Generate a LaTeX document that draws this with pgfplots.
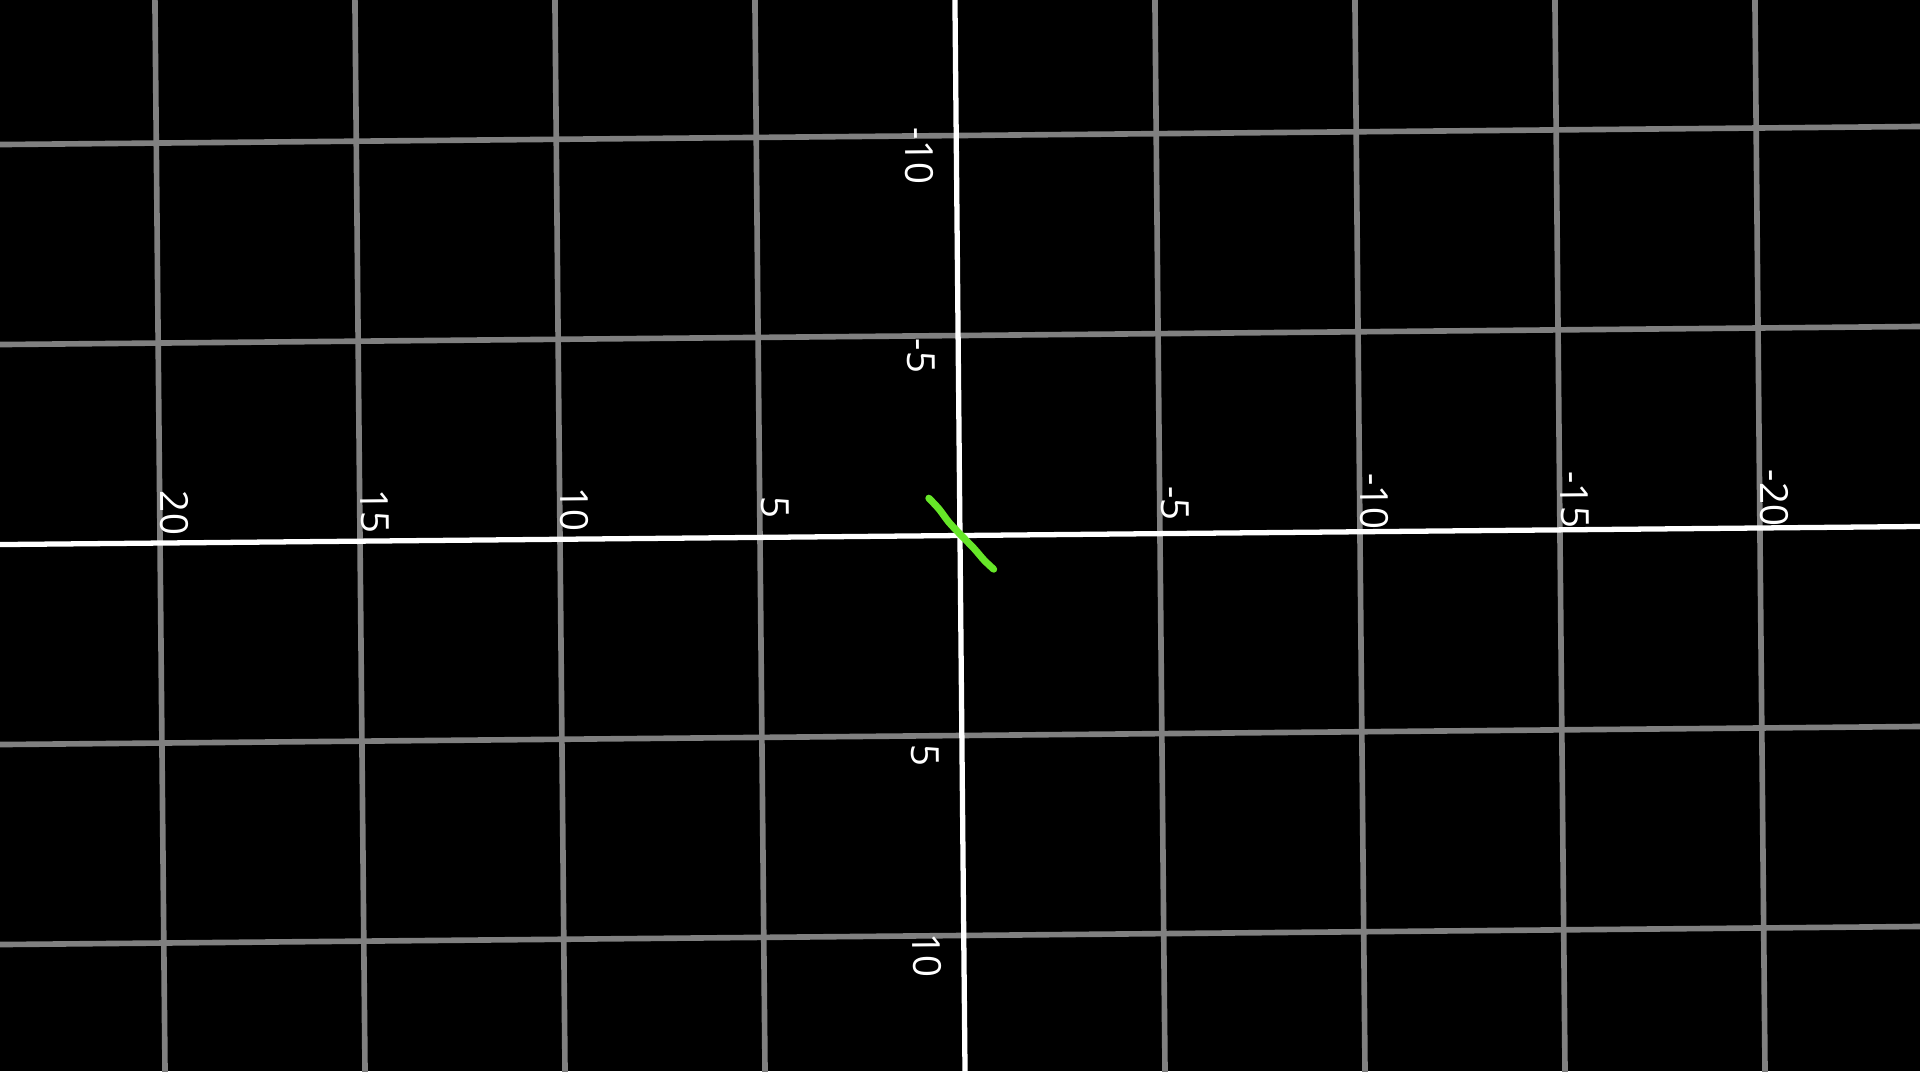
\documentclass[border=0pt]{standalone}
\usepackage{pgfplots}
\pgfplotsset{compat=1.18}
\usepackage{fontspec}
\setmainfont{Open Sans}
\definecolor{gridgray}{RGB}{128,128,128}
\definecolor{curvegreen}{RGB}{102,230,40}
\begin{document}
\begin{tikzpicture}
\path[use as bounding box] (-9.6cm,-5.355cm) rectangle (9.6cm,5.355cm);
\fill[black] (-9.6cm,-5.355cm) rectangle (9.6cm,5.355cm);
\clip (-9.6cm,-5.355cm) rectangle (9.6cm,5.355cm);
\begin{scope}[rotate=0.54]
\begin{axis}[
  at={(0,0)}, anchor=origin,
  x=4mm, y=4mm,
  xmin=-27, xmax=27, ymin=-17, ymax=17,
  x dir=reverse, y dir=reverse,
  axis lines=middle,
  axis line style={white, line width=1.5pt, -},
  xtick={-20,-15,-10,-5,5,10,15,20},
  xticklabels={-20,-15,-10,-5,5,10,15,20},
  ytick={-10,-5,5,10},
  yticklabels={-10,-5,5,10},
  extra x ticks={-25,25},
  extra x tick labels={},
  extra y ticks={-15,15},
  extra y tick labels={},
  extra tick style={grid=major, major grid style={gridgray, line width=1.6pt}},
  major tick length=0pt,
  grid=major,
  major grid style={gridgray, line width=1.6pt},
  tick label style={font=\fontsize{11}{13}\selectfont, text=white},
  xticklabel style={xshift=1.5mm, yshift=3mm, rotate=-90, anchor=center},
  yticklabel style={xshift=-3.7mm, yshift=-2mm, rotate=-90, anchor=center},
  clip=false,
]
\addplot[curvegreen, line width=2pt, smooth, line cap=round] coordinates {
  (0.77,-0.94) (0.52,-0.67) (0.27,-0.33) (-0.035,0) (-0.35,0.33) (-0.60,0.625) (-0.835,0.85)
};
\end{axis}
\end{scope}
\end{tikzpicture}
\end{document}
